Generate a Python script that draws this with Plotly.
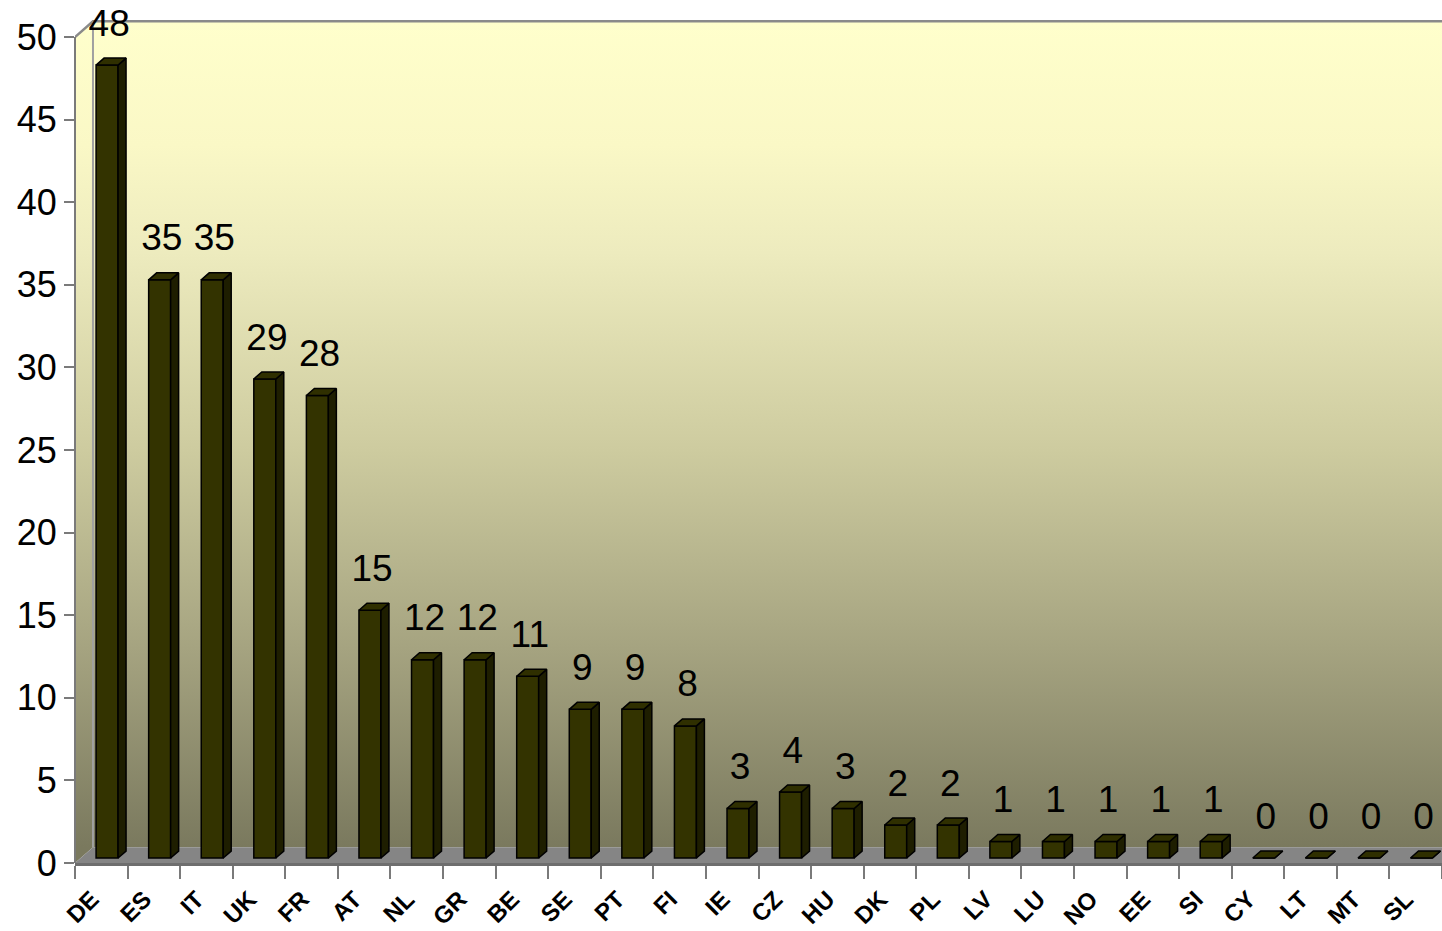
import plotly.graph_objects as go

# ---------------- data ----------------
countries = ["DE", "ES", "IT", "UK", "FR", "AT", "NL", "GR", "BE", "SE", "PT", "FI", "IE",
             "CZ", "HU", "DK", "PL", "LV", "LU", "NO", "EE", "SI", "CY", "LT", "MT", "SL"]
values = [48, 35, 35, 29, 28, 15, 12, 12, 11, 9, 9, 8, 3, 4, 3, 2, 2, 1, 1, 1, 1, 1, 0, 0, 0, 0]
y_ticks = [0, 5, 10, 15, 20, 25, 30, 35, 40, 45, 50]

# ---------------- geometry / style ----------------
n = len(countries)
X0, X1 = -0.5, n - 0.5
Y0, Y1 = 0, 52
WALL_DX, WALL_DY = 0.342, 0.95       # depth of the 3-D box (axis units)
BAR_OFF, BAR_W, BAR_BASE = 0.11, 0.418, 0.3
SIDE_DX, SIDE_DY = 0.152, 0.424      # depth of each 3-D bar
LABEL_GAP = 0.8
TICK_SHIFT = -0.18
FONT = "Liberation Sans, Arial, sans-serif"
FRONT, SIDE, TOP = "#333300", "#1e1e00", "#2f2f00"
WALL_SCALE = [[0.0, "rgb(122,121,94)"], [0.24, "rgb(165,163,128)"], [0.48, "rgb(205,203,159)"],
              [0.72, "rgb(237,235,190)"], [0.85, "rgb(250,248,198)"], [1.0, "rgb(255,255,204)"]]

top_wall = y_ticks[-1]
wx = X0 + WALL_DX
fig = go.Figure()

# back wall
fig.add_trace(go.Scatter(
    x=[wx, X1 + 1, X1 + 1, wx, wx], y=[WALL_DY, WALL_DY, top_wall + WALL_DY, top_wall + WALL_DY, WALL_DY],
    mode="lines", line=dict(width=0), fill="toself",
    fillgradient=dict(type="vertical", colorscale=WALL_SCALE, start=WALL_DY, stop=top_wall + WALL_DY),
    hoverinfo="skip", showlegend=False))
# left side wall
fig.add_trace(go.Scatter(
    x=[X0, wx, wx, X0, X0], y=[0, WALL_DY, top_wall + WALL_DY, top_wall, 0],
    mode="lines", line=dict(width=0), fill="toself",
    fillgradient=dict(type="vertical", colorscale=WALL_SCALE, start=WALL_DY, stop=top_wall + WALL_DY),
    hoverinfo="skip", showlegend=False))
# floor
fig.add_trace(go.Scatter(
    x=[X0, X1 + 1, X1 + 1, wx, X0], y=[0, 0, WALL_DY, WALL_DY, 0],
    mode="lines", line=dict(width=0), fill="toself", fillcolor="#858585",
    hoverinfo="skip", showlegend=False))
# wall edges
fig.add_trace(go.Scatter(
    x=[X0, wx, X1 + 1], y=[top_wall, top_wall + WALL_DY, top_wall + WALL_DY],
    mode="lines", line=dict(color="#8a8a8a", width=2.5), hoverinfo="skip", showlegend=False))
fig.add_trace(go.Scatter(
    x=[wx, wx], y=[WALL_DY, top_wall + WALL_DY],
    mode="lines", line=dict(color="#a0a0a0", width=2), hoverinfo="skip", showlegend=False))

# ---------------- bars (overlay subplot, drawn above the walls) ----------------
xs = [i + BAR_OFF for i in range(n)]
fig.add_trace(go.Bar(
    x=xs, y=values, base=BAR_BASE, width=BAR_W,
    marker=dict(color=FRONT, line=dict(color="black", width=1.5)),
    xaxis="x2", yaxis="y2", hoverinfo="skip", showlegend=False))

side_x, side_y, top_x, top_y = [], [], [], []
for x, v in zip(xs, values):
    xl, xr = x - BAR_W / 2, x + BAR_W / 2
    yb, yt = BAR_BASE, BAR_BASE + v
    side_x += [xr, xr, xr + SIDE_DX, xr + SIDE_DX, xr, None]
    side_y += [yb, yt, yt + SIDE_DY, yb + SIDE_DY, yb, None]
    top_x += [xl, xr, xr + SIDE_DX, xl + SIDE_DX, xl, None]
    top_y += [yt, yt, yt + SIDE_DY, yt + SIDE_DY, yt, None]

fig.add_trace(go.Scatter(x=side_x, y=side_y, mode="lines", fill="toself", fillcolor=SIDE,
                         line=dict(color="black", width=1.5), xaxis="x2", yaxis="y2",
                         hoverinfo="skip", showlegend=False))
fig.add_trace(go.Scatter(x=top_x, y=top_y, mode="lines", fill="toself", fillcolor=TOP,
                         line=dict(color="black", width=1.5), xaxis="x2", yaxis="y2",
                         hoverinfo="skip", showlegend=False))

# value labels
fig.add_trace(go.Scatter(
    x=[i + 0.15 for i in range(n)],
    y=[v + BAR_BASE + SIDE_DY + LABEL_GAP for v in values],
    text=[str(v) for v in values], mode="text", textposition="top center",
    textfont=dict(family=FONT, size=37, color="black"), cliponaxis=False,
    xaxis="x2", yaxis="y2", hoverinfo="skip", showlegend=False))

# y axis line (0..50)
fig.add_shape(type="line", xref="paper", yref="y", x0=0, x1=0, y0=0, y1=top_wall,
              line=dict(color="#7a7a7a", width=2), layer="above")

fig.update_layout(
    template="none",
    width=1442, height=931,
    margin=dict(l=75, r=0, t=4, b=68, autoexpand=False),
    paper_bgcolor="white", plot_bgcolor="white",
    showlegend=False,
    xaxis=dict(range=[X0, X1], tickmode="array", tickvals=[i + TICK_SHIFT for i in range(n)],
               ticktext=countries,
               ticks="", tickangle=-45, ticklabelstandoff=10,
               tickfont=dict(family=FONT, size=24, color="black", weight="bold"),
               showline=True, linecolor="#6e6e6e", linewidth=2.5,
               showgrid=False, zeroline=False, automargin=False, fixedrange=True,
               minor=dict(tickmode="array", tickvals=[i - 0.5 for i in range(n + 1)], ticks="outside",
                          ticklen=13, tickcolor="#7a7a7a", tickwidth=2, showgrid=False)),
    yaxis=dict(range=[Y0, Y1], tickmode="array", tickvals=y_ticks, ticks="outside", ticklen=10,
               tickcolor="#7a7a7a", tickwidth=2,
               tickfont=dict(family=FONT, size=36, color="black"),
               showline=False, showgrid=False, zeroline=False, automargin=False, fixedrange=True),
    xaxis2=dict(overlaying="x", range=[X0, X1], visible=False, fixedrange=True),
    yaxis2=dict(overlaying="y", range=[Y0, Y1], visible=False, fixedrange=True),
)

fig.write_html("out.html", config={"displayModeBar": False},
               post_script="document.body.style.margin='0';")
